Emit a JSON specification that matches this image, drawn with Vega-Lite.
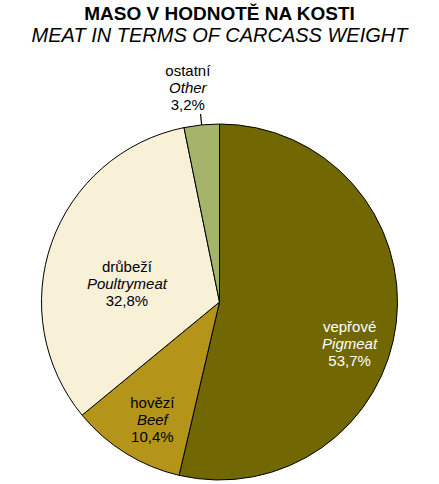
{
  "$schema": "https://vega.github.io/schema/vega-lite/v6.json",
  "width": 439,
  "height": 360,
  "padding": {"top": 5, "left": 0, "right": 0, "bottom": 0},
  "background": "white",
  "config": {"view": {"stroke": null}, "font": "Liberation Sans"},
  "title": {
    "text": "MASO V HODNOTĚ NA KOSTI",
    "subtitle": "MEAT IN TERMS OF CARCASS WEIGHT",
    "anchor": "middle",
    "font": "Liberation Sans",
    "fontSize": 19,
    "fontWeight": "bold",
    "color": "black",
    "subtitleFont": "Liberation Sans",
    "subtitleFontSize": 20,
    "subtitleFontStyle": "italic",
    "subtitleColor": "black",
    "subtitlePadding": 2,
    "offset": 18
  },
  "data": {
    "values": [
      {"cz": "vepřové", "en": "Pigmeat", "share": 53.7, "pct": "53,7%", "rank": 1},
      {"cz": "hovězí", "en": "Beef", "share": 10.4, "pct": "10,4%", "rank": 2},
      {"cz": "drůbeží", "en": "Poultrymeat", "share": 32.8, "pct": "32,8%", "rank": 3},
      {"cz": "ostatní", "en": "Other", "share": 3.2, "pct": "3,2%", "rank": 4}
    ]
  },
  "encoding": {
    "theta": {"field": "share", "type": "quantitative", "stack": true},
    "order": {"field": "rank", "type": "quantitative", "sort": "ascending"},
    "detail": {"field": "cz", "type": "nominal"}
  },
  "layer": [
    {
      "mark": {"type": "arc", "radius": 178, "stroke": "black", "strokeWidth": 1},
      "encoding": {
        "color": {
          "field": "cz",
          "type": "nominal",
          "scale": {"domain": ["vepřové", "hovězí", "drůbeží", "ostatní"], "range": ["#716703", "#B59519", "#F8F0D7", "#A5B46B"]},
          "legend": null
        }
      }
    },
    {
      "mark": {"type": "arc", "radius": 189, "radius2": 178, "padAngle": 0.3, "filled": false, "stroke": "black", "strokeWidth": 1.2},
      "encoding": {
        "strokeOpacity": {"condition": {"test": "datum.cz === 'ostatní'", "value": 1}, "value": 0}
      }
    },
    {"mark": {"type": "text", "radius": 136, "dx": -5, "dy": 9, "fontSize": 15, "color": "white"},
     "encoding": {"text": {"condition": {"test": "datum.cz === 'vepřové'", "field": "cz", "type": "nominal"}, "value": ""}}},
    {"mark": {"type": "text", "radius": 136, "dx": -5, "dy": 26, "fontSize": 15, "fontStyle": "italic", "color": "white"},
     "encoding": {"text": {"condition": {"test": "datum.cz === 'vepřové'", "field": "en", "type": "nominal"}, "value": ""}}},
    {"mark": {"type": "text", "radius": 136, "dx": -5, "dy": 43, "fontSize": 15, "color": "white"},
     "encoding": {"text": {"condition": {"test": "datum.cz === 'vepřové'", "field": "pct", "type": "nominal"}, "value": ""}}},

    {"mark": {"type": "text", "radius": 135, "dx": 4, "dy": -14, "fontSize": 15, "color": "black"},
     "encoding": {"text": {"condition": {"test": "datum.cz === 'hovězí'", "field": "cz", "type": "nominal"}, "value": ""}}},
    {"mark": {"type": "text", "radius": 135, "dx": 4, "dy": 3, "fontSize": 15, "fontStyle": "italic", "color": "black"},
     "encoding": {"text": {"condition": {"test": "datum.cz === 'hovězí'", "field": "en", "type": "nominal"}, "value": ""}}},
    {"mark": {"type": "text", "radius": 135, "dx": 4, "dy": 20, "fontSize": 15, "color": "black"},
     "encoding": {"text": {"condition": {"test": "datum.cz === 'hovězí'", "field": "pct", "type": "nominal"}, "value": ""}}},

    {"mark": {"type": "text", "radius": 94, "dx": -4, "dy": -4, "fontSize": 15, "color": "black"},
     "encoding": {"text": {"condition": {"test": "datum.cz === 'drůbeží'", "field": "cz", "type": "nominal"}, "value": ""}}},
    {"mark": {"type": "text", "radius": 94, "dx": -4, "dy": 13, "fontSize": 15, "fontStyle": "italic", "color": "black"},
     "encoding": {"text": {"condition": {"test": "datum.cz === 'drůbeží'", "field": "en", "type": "nominal"}, "value": ""}}},
    {"mark": {"type": "text", "radius": 94, "dx": -4, "dy": 30, "fontSize": 15, "color": "black"},
     "encoding": {"text": {"condition": {"test": "datum.cz === 'drůbeží'", "field": "pct", "type": "nominal"}, "value": ""}}},

    {"mark": {"type": "text", "radius": 216, "dx": -10, "dy": -16, "fontSize": 15, "color": "black"},
     "encoding": {"text": {"condition": {"test": "datum.cz === 'ostatní'", "field": "cz", "type": "nominal"}, "value": ""}}},
    {"mark": {"type": "text", "radius": 216, "dx": -10, "dy": 1, "fontSize": 15, "fontStyle": "italic", "color": "black"},
     "encoding": {"text": {"condition": {"test": "datum.cz === 'ostatní'", "field": "en", "type": "nominal"}, "value": ""}}},
    {"mark": {"type": "text", "radius": 216, "dx": -10, "dy": 18, "fontSize": 15, "color": "black"},
     "encoding": {"text": {"condition": {"test": "datum.cz === 'ostatní'", "field": "pct", "type": "nominal"}, "value": ""}}}
  ]
}
